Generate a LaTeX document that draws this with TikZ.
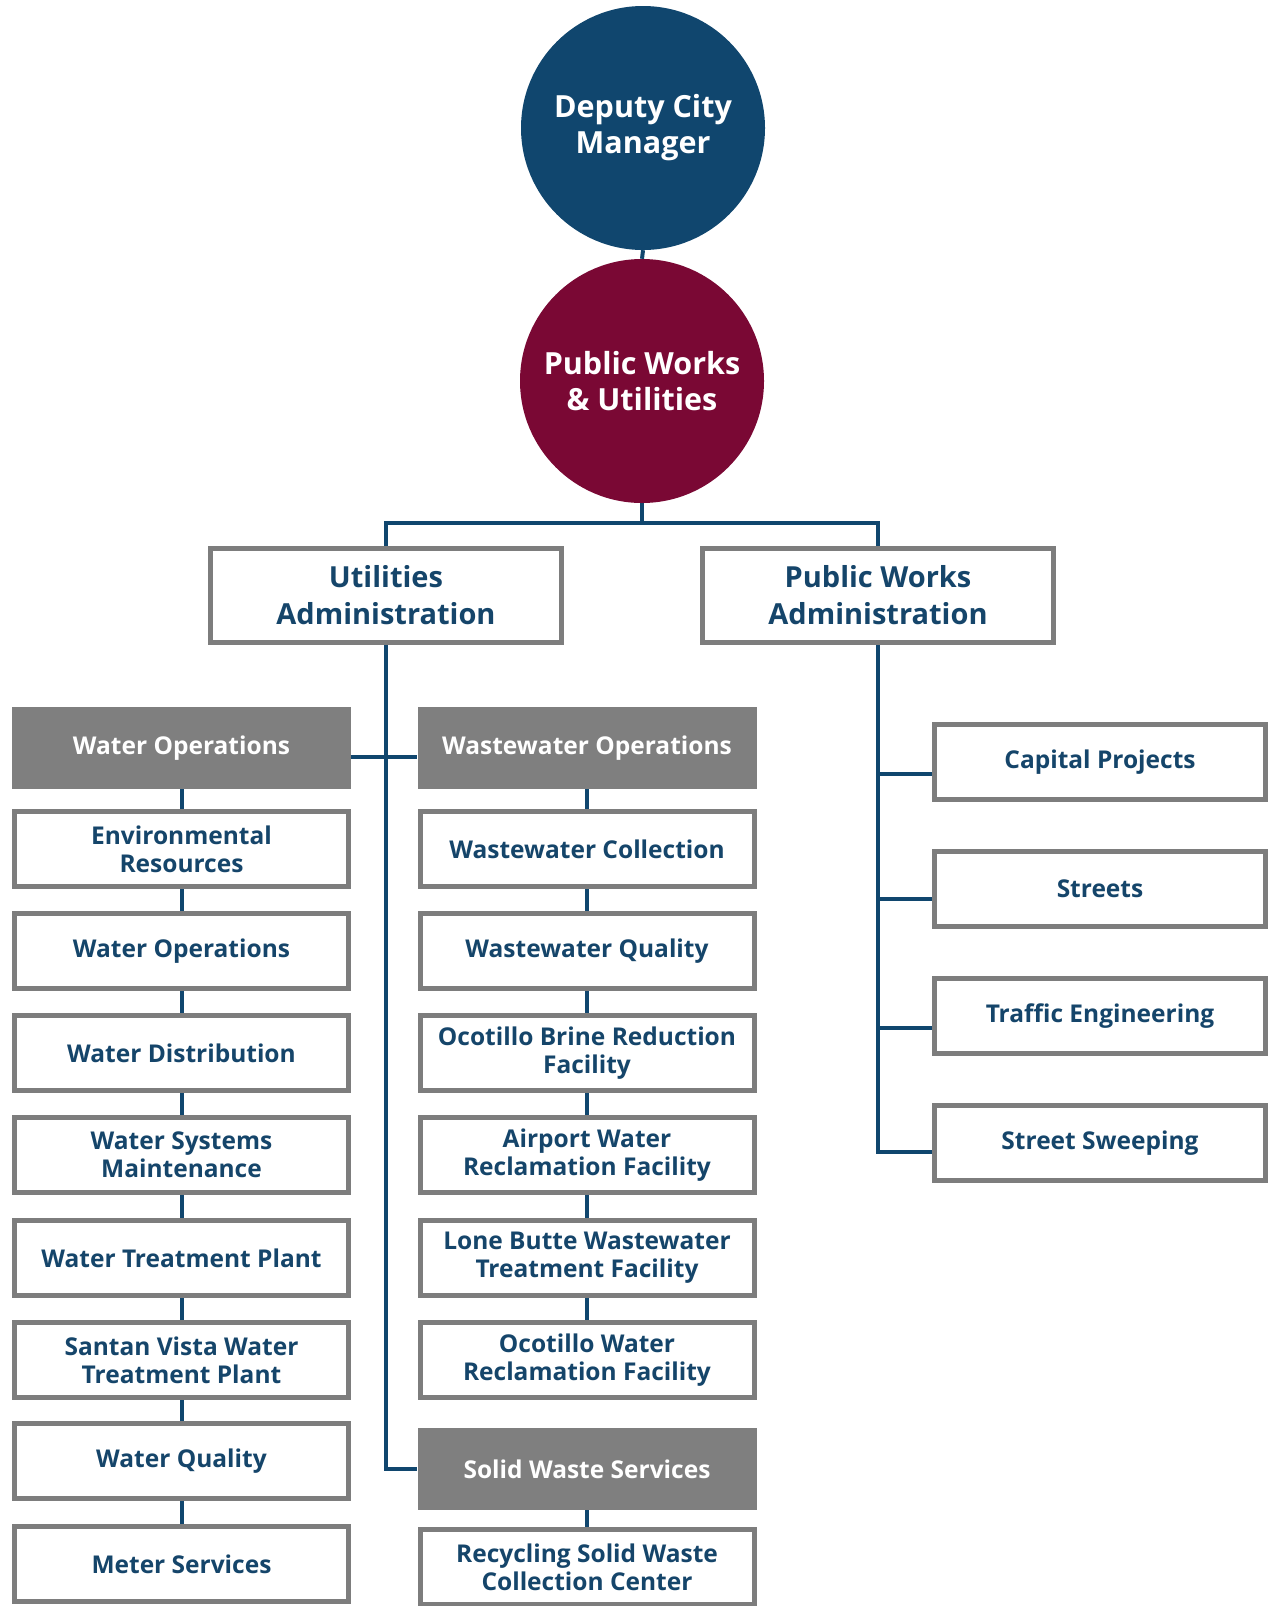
\documentclass[tikz,border=0pt]{standalone}
\usepackage{fontspec}
\setmainfont{Open Sans}
\usetikzlibrary{backgrounds}
\definecolor{navy}{HTML}{10466E}
\definecolor{maroon}{HTML}{7A0834}
\definecolor{hdrgray}{HTML}{7F7F7F}
\definecolor{boxgray}{HTML}{7D7D7D}
\definecolor{txtnavy}{HTML}{15456A}
\begin{document}
\begin{tikzpicture}[x=1pt,y=-1pt,
  circ/.style={circle, minimum size=244pt, inner sep=0pt, text=white, align=center,
    font=\bfseries\fontsize{30.5}{36}\selectfont},
  admin/.style={draw=boxgray, line width=5pt, fill=white, minimum width=351pt, minimum height=94pt,
    inner sep=0pt, text=txtnavy, align=center, font=\bfseries\fontsize{29}{37}\selectfont},
  hdr/.style={fill=hdrgray, minimum width=339pt, minimum height=82pt, inner sep=0pt,
    text=white, align=center, font=\bfseries\fontsize{24.5}{28}\selectfont},
  unit/.style={draw=boxgray, line width=5pt, fill=white, minimum width=334pt, minimum height=75pt,
    inner sep=0pt, text=txtnavy, align=center, font=\bfseries\fontsize{24.5}{28}\selectfont},
  conn/.style={draw=navy, line width=4pt}]
\useasboundingbox (0,0) rectangle (1270,1606);

% circles
\node[circ, fill=navy] (dcm) at (643,128) {\raisebox{-3pt}{\parbox{230pt}{\centering Deputy City\\Manager}}};
\node[circ, fill=maroon] (pwu) at (642,381) {Public Works\\\& Utilities};

% admin boxes
\node[admin] (ua) at (386,595.5) {Utilities\\Administration};
\node[admin] (pwa) at (878,595.5) {Public Works\\Administration};

% left column
\node[hdr] (wo) at (181.5,748) {Water Operations};
\node[unit] (er) at (181.5,849) {Environmental\\Resources};
\node[unit] (wop) at (181.5,951) {Water Operations};
\node[unit] (wd) at (181.5,1053) {Water Distribution};
\node[unit] (wsm) at (181.5,1155) {Water Systems\\Maintenance};
\node[unit] (wtp) at (181.5,1258) {Water Treatment Plant};
\node[unit] (sv) at (181.5,1360) {Santan Vista Water\\Treatment Plant};
\node[unit] (wq) at (181.5,1461) {Water Quality};
\node[unit] (ms) at (181.5,1564) {Meter Services};

% middle column
\node[hdr] (wwo) at (587,748) {Wastewater Operations};
\node[unit] (wwc) at (587,849) {Wastewater Collection};
\node[unit] (wwq) at (587,951) {Wastewater Quality};
\node[unit] (obr) at (587,1053) {Ocotillo Brine Reduction\\Facility};
\node[unit] (awr) at (587,1155) {Airport Water\\Reclamation Facility};
\node[unit] (lbw) at (587,1258) {Lone Butte Wastewater\\Treatment Facility};
\node[unit] (owr) at (587,1360) {Ocotillo Water\\Reclamation Facility};
\node[hdr] (sws) at (587,1469) {Solid Waste Services};
\node[unit] (rsw) at (587,1567) {Recycling Solid Waste\\Collection Center};

% right column
\node[unit, minimum width=331pt] (cp) at (1100,762) {Capital Projects};
\node[unit, minimum width=331pt] (st) at (1100,889) {Streets};
\node[unit, minimum width=331pt] (te) at (1100,1016) {Traffic Engineering};
\node[unit, minimum width=331pt] (ssw) at (1100,1143) {Street Sweeping};

\coordinate (bar) at (642,523);
\coordinate (b1) at ([yshift=-12pt]cp.west);
\coordinate (b2) at ([yshift=-10pt]st.west);
\coordinate (b3) at ([yshift=-12pt]te.west);
\coordinate (b4) at ([yshift=-9pt]ssw.west);

\begin{pgfonlayer}{background}
\fill[white] (0,0) rectangle (1270,1606);
\draw[conn] (dcm.south) -- (pwu.north);
\draw[conn] (pwu.south) -- (bar);
\draw[conn] (ua.north) |- (bar) -| (pwa.north);
% utilities spine
\draw[conn] (ua.south) |- (sws.west);
\draw[conn] ([yshift=-9pt]wo.east) -- ([yshift=-9pt]wwo.west);
% left chain
\draw[conn] (wo.south) -- (er.north);
\draw[conn] (er.south) -- (wop.north);
\draw[conn] (wop.south) -- (wd.north);
\draw[conn] (wd.south) -- (wsm.north);
\draw[conn] (wsm.south) -- (wtp.north);
\draw[conn] (wtp.south) -- (sv.north);
\draw[conn] (sv.south) -- (wq.north);
\draw[conn] (wq.south) -- (ms.north);
% middle chain
\draw[conn] (wwo.south) -- (wwc.north);
\draw[conn] (wwc.south) -- (wwq.north);
\draw[conn] (wwq.south) -- (obr.north);
\draw[conn] (obr.south) -- (awr.north);
\draw[conn] (awr.south) -- (lbw.north);
\draw[conn] (lbw.south) -- (owr.north);
\draw[conn] (sws.south) -- (rsw.north);
% right spine
\draw[conn] (pwa.south) -- (pwa.south |- b4) -- (b4);
\draw[conn] (pwa.south |- b1) -- (b1);
\draw[conn] (pwa.south |- b2) -- (b2);
\draw[conn] (pwa.south |- b3) -- (b3);
\end{pgfonlayer}
\end{tikzpicture}
\end{document}
